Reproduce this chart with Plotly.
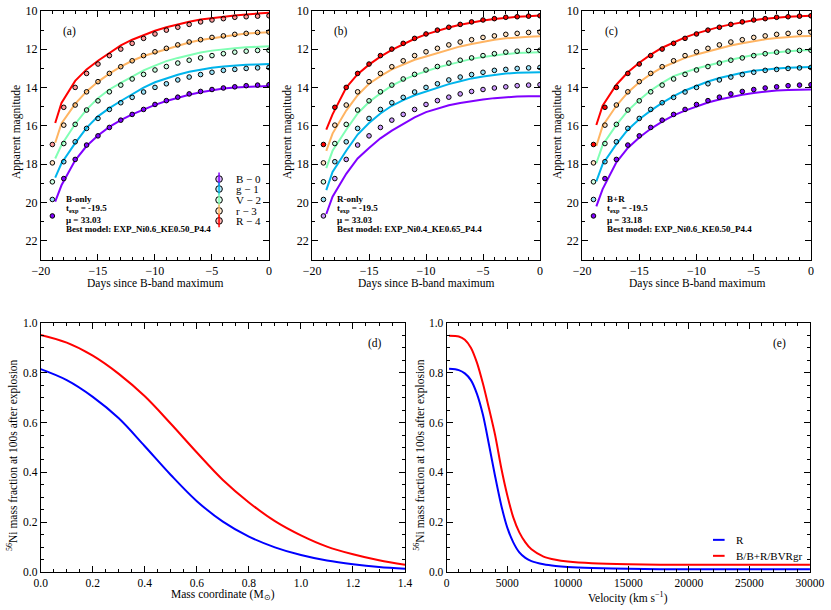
import plotly.graph_objects as go

# observed photometry (days since B max), same in all three top panels
days = [-19, -18, -17, -16, -15, -14, -13, -12, -11, -10,
        -9, -8, -7, -6, -5, -4, -3, -2, -1, 0]
obs_B = [20.70, 18.75, 17.75, 17.00, 16.52, 16.08, 15.70, 15.40, 15.14, 14.88,
         14.68, 14.50, 14.33, 14.20, 14.10, 14.02, 13.96, 13.90, 13.87, 13.85]
obs_g = [19.84, 17.87, 16.83, 16.13, 15.61, 15.14, 14.79, 14.51, 14.23, 13.99,
         13.80, 13.60, 13.45, 13.32, 13.20, 13.10, 13.05, 13.00, 12.97, 12.95]
obs_V = [18.92, 16.92, 15.92, 15.17, 14.69, 14.22, 13.87, 13.55, 13.31, 13.08,
         12.90, 12.72, 12.57, 12.45, 12.33, 12.23, 12.15, 12.10, 12.06, 12.05]
obs_r = [17.93, 15.96, 14.91, 14.22, 13.69, 13.26, 12.91, 12.60, 12.33, 12.13,
         11.95, 11.77, 11.62, 11.50, 11.38, 11.30, 11.22, 11.17, 11.12, 11.10]
obs_R = [16.97, 15.03, 13.99, 13.26, 12.77, 12.33, 11.99, 11.69, 11.43, 11.20,
         11.00, 10.85, 10.70, 10.57, 10.47, 10.40, 10.33, 10.30, 10.27, 10.25]

# model light curves
model_t = [-18.75, -18.2, -17, -16, -15, -14, -13, -12, -11, -10,
           -9, -8, -7, -6, -5, -4, -3, -2, -1, 0]
# (a) B-only
a_B = [19.95, 19.10, 17.80, 17.05, 16.50, 16.05, 15.70, 15.40, 15.15, 14.90,
       14.70, 14.52, 14.37, 14.24, 14.13, 14.05, 14.00, 13.96, 13.94, 13.92]
a_g = [18.70, 17.95, 16.90, 16.10, 15.50, 15.07, 14.70, 14.35, 14.00, 13.72,
       13.52, 13.33, 13.17, 13.05, 12.96, 12.90, 12.85, 12.81, 12.79, 12.77]
a_V = [17.70, 17.00, 15.90, 15.15, 14.55, 14.10, 13.75, 13.42, 13.10, 12.85,
       12.62, 12.45, 12.30, 12.17, 12.07, 12.00, 11.94, 11.90, 11.86, 11.84]
a_r = [16.88, 15.87, 14.85, 14.20, 13.70, 13.27, 12.90, 12.60, 12.35, 12.17,
       11.98, 11.82, 11.65, 11.52, 11.42, 11.33, 11.25, 11.18, 11.14, 11.11]
a_R = [15.85, 14.80, 13.65, 13.05, 12.60, 12.20, 11.80, 11.50, 11.25, 11.03,
       10.85, 10.70, 10.56, 10.45, 10.37, 10.30, 10.23, 10.18, 10.13, 10.09]
# (b) R-only
b_B = [20.60, 19.70, 18.50, 17.70, 17.15, 16.65, 16.25, 15.90, 15.55, 15.28,
       15.08, 14.92, 14.80, 14.70, 14.62, 14.55, 14.50, 14.47, 14.45, 14.45]
b_g = [19.35, 18.40, 17.30, 16.45, 15.85, 15.35, 14.95, 14.65, 14.40, 14.20,
       14.00, 13.82, 13.67, 13.52, 13.42, 13.33, 13.27, 13.23, 13.20, 13.20]
b_V = [18.20, 17.30, 16.20, 15.35, 14.75, 14.30, 13.90, 13.60, 13.35, 13.15,
       12.95, 12.80, 12.65, 12.50, 12.40, 12.32, 12.25, 12.20, 12.17, 12.15]
b_r = [17.30, 16.40, 15.20, 14.40, 13.80, 13.40, 13.05, 12.78, 12.55, 12.38,
       12.20, 12.00, 11.85, 11.72, 11.60, 11.50, 11.43, 11.38, 11.34, 11.32]
b_R = [16.20, 15.40, 14.00, 13.30, 12.80, 12.38, 12.03, 11.72, 11.45, 11.22,
       11.03, 10.86, 10.72, 10.60, 10.50, 10.42, 10.35, 10.30, 10.27, 10.24]
# (c) B+R
c_B = [20.20, 19.30, 17.90, 17.15, 16.60, 16.15, 15.78, 15.45, 15.20, 14.97,
       14.78, 14.62, 14.48, 14.37, 14.28, 14.20, 14.15, 14.12, 14.10, 14.10]
c_g = [18.90, 18.00, 16.95, 16.20, 15.65, 15.20, 14.80, 14.45, 14.15, 13.90,
       13.68, 13.50, 13.35, 13.22, 13.12, 13.05, 13.00, 12.96, 12.93, 12.92]
c_V = [17.95, 17.00, 15.95, 15.20, 14.65, 14.15, 13.75, 13.40, 13.20, 13.00,
       12.85, 12.68, 12.55, 12.42, 12.30, 12.22, 12.15, 12.10, 12.06, 12.04]
c_r = [17.05, 16.00, 14.95, 14.25, 13.72, 13.30, 12.95, 12.68, 12.45, 12.27,
       12.10, 11.95, 11.80, 11.68, 11.57, 11.48, 11.41, 11.36, 11.32, 11.30]
c_R = [15.95, 14.95, 13.85, 13.20, 12.70, 12.28, 11.92, 11.63, 11.38, 11.17,
       10.98, 10.83, 10.70, 10.58, 10.48, 10.40, 10.34, 10.30, 10.27, 10.25]

bands = ["B", "g", "V", "r", "R"]
legend_labels = ["B \u2212 0", "g \u2212 1", "V \u2212 2", "r \u2212 3", "R \u2212 4"]
band_colors = {"B": "#8000ff", "g": "#00b4eb", "V": "#80ffb4", "r": "#ffb462", "R": "#ff0000"}
observed = {"B": obs_B, "g": obs_g, "V": obs_V, "r": obs_r, "R": obs_R}

panels = [
    dict(key="a", models={"B": a_B, "g": a_g, "V": a_V, "r": a_r, "R": a_R}, fitted=["B"],
         info=["B-only", "t<sub>exp</sub> = -19.5", "\u03bc = 33.03", "Best model: EXP_Ni0.6_KE0.50_P4.4"]),
    dict(key="b", models={"B": b_B, "g": b_g, "V": b_V, "r": b_r, "R": b_R}, fitted=["R"],
         info=["R-only", "t<sub>exp</sub> = -19.5", "\u03bc = 33.03", "Best model: EXP_Ni0.4_KE0.65_P4.4"]),
    dict(key="c", models={"B": c_B, "g": c_g, "V": c_V, "r": c_r, "R": c_R}, fitted=["B", "R"],
         info=["B+R", "t<sub>exp</sub> = -19.5", "\u03bc = 33.18", "Best model: EXP_Ni0.6_KE0.50_P4.4"]),
]

# 56Ni profiles
mass = [0.0, 0.1, 0.2, 0.3, 0.4, 0.5, 0.6, 0.7, 0.8, 0.9, 1.0, 1.1, 1.2, 1.3, 1.4]
ni_mass_R = [0.814, 0.770, 0.703, 0.617, 0.505, 0.390, 0.285, 0.203, 0.143, 0.100,
             0.069, 0.047, 0.032, 0.021, 0.014]
ni_mass_B = [0.951, 0.920, 0.868, 0.795, 0.705, 0.595, 0.480, 0.370, 0.280, 0.205,
             0.148, 0.103, 0.072, 0.048, 0.030]
velocity = [200, 1000, 1500, 2000, 2500, 3000, 3500, 4000, 4500, 5000, 5500, 6000,
            6500, 7000, 8000, 9000, 10000, 12000, 15000, 20000, 25000, 30000]
ni_vel_R = [0.815, 0.810, 0.797, 0.770, 0.715, 0.630, 0.510, 0.385, 0.270, 0.180, 0.120,
            0.080, 0.058, 0.045, 0.032, 0.025, 0.021, 0.017, 0.014, 0.012, 0.012, 0.012]
ni_vel_B = [0.948, 0.945, 0.932, 0.900, 0.840, 0.755, 0.655, 0.550, 0.420, 0.310, 0.220,
            0.160, 0.120, 0.092, 0.063, 0.050, 0.043, 0.036, 0.032, 0.030, 0.030, 0.030]
vel_labels = ["R", "B/B+R/BVRgr"]


def rgba(hexcol, a):
    return f"rgba({int(hexcol[1:3], 16)}, {int(hexcol[3:5], 16)}, {int(hexcol[5:], 16)}, {a})"


FONT = "Liberation Serif"
fig = go.Figure()
annotations = []
shapes = []


def label(text, x, y, xref, yref, size=11.5, angle=0, xanchor="center", yanchor="middle"):
    annotations.append(dict(text=text, x=x, y=y, xref=xref, yref=yref, showarrow=False,
                            textangle=angle, font=dict(size=size),
                            xanchor=xanchor, yanchor=yanchor))


for i, p in enumerate(panels):
    xa = "x" if i == 0 else f"x{i + 1}"
    ya = "y" if i == 0 else f"y{i + 1}"
    for b in bands:
        fig.add_trace(go.Scatter(x=model_t, y=p["models"][b], mode="lines", xaxis=xa, yaxis=ya,
                                 line=dict(color=band_colors[b], width=2), showlegend=False))
    for b in bands:
        face = band_colors[b] if b in p["fitted"] else rgba(band_colors[b], 0.4)
        fig.add_trace(go.Scatter(x=days, y=observed[b], mode="markers", xaxis=xa, yaxis=ya,
                                 marker=dict(size=4.6, color=face, line=dict(color="black", width=1)),
                                 showlegend=False))
    xd = xa + " domain"
    yd = ya + " domain"
    label(f"({p['key']})", 0.127, 0.916, xd, yd)
    label("Days since B-band maximum", 0.5, -0.094, xd, yd)
    label("Apparent magnitude", -0.105, 0.514, xd, yd, angle=-90)
    for line, yy in zip(p["info"], [0.245, 0.205, 0.161, 0.124]):
        label(f"<b>{line}</b>", 0.10, yy, xd, yd, size=9, xanchor="left")

# legend of panel (a) drawn with shapes
for b, lab, yy in zip(bands, legend_labels, [0.325, 0.285, 0.241, 0.197, 0.157]):
    cx, rx, ry = 0.781, 0.0145, 0.0135
    shapes.append(dict(type="circle", xref="x domain", yref="y domain",
                       x0=cx - rx, x1=cx + rx, y0=yy - ry, y1=yy + ry,
                       fillcolor=rgba(band_colors[b], 0.3), line=dict(color="black", width=1)))
    shapes.append(dict(type="line", xref="x domain", yref="y domain",
                       x0=cx, x1=cx, y0=yy - 0.026, y1=yy + 0.026,
                       line=dict(color=band_colors[b], width=1.5)))
    label(lab, 0.846, yy, "x domain", "y domain", size=11, xanchor="left")

fig.add_trace(go.Scatter(x=mass, y=ni_mass_R, mode="lines", xaxis="x4", yaxis="y4",
                         line=dict(color="#0000ff", width=2, shape="spline"), showlegend=False))
fig.add_trace(go.Scatter(x=mass, y=ni_mass_B, mode="lines", xaxis="x4", yaxis="y4",
                         line=dict(color="#ff0000", width=2, shape="spline"), showlegend=False))
fig.add_trace(go.Scatter(x=velocity, y=ni_vel_R, mode="lines", xaxis="x5", yaxis="y5",
                         line=dict(color="#0000ff", width=2, shape="spline", smoothing=0.8),
                         showlegend=False))
fig.add_trace(go.Scatter(x=velocity, y=ni_vel_B, mode="lines", xaxis="x5", yaxis="y5",
                         line=dict(color="#ff0000", width=2, shape="spline", smoothing=0.8),
                         showlegend=False))

ni_title = "<sup>56</sup>Ni mass fraction at 100s after explosion"
label("(d)", 0.918, 0.915, "x4 domain", "y4 domain")
label("Mass coordinate (M<sub>\u2299</sub>)", 0.5, -0.09, "x4 domain", "y4 domain")
label(ni_title, -0.076, 0.47, "x4 domain", "y4 domain", angle=-90)
label("(e)", 0.917, 0.915, "x5 domain", "y5 domain")
label("Velocity (km s<sup>\u22121</sup>)", 0.5, -0.1, "x5 domain", "y5 domain")
label(ni_title, -0.074, 0.47, "x5 domain", "y5 domain", angle=-90)
# legend of panel (e)
for lab, col, yy in zip(vel_labels, ["#0000ff", "#ff0000"], [0.13, 0.066]):
    shapes.append(dict(type="line", xref="x5 domain", yref="y5 domain",
                       x0=0.733, x1=0.765, y0=yy, y1=yy, line=dict(color=col, width=2)))
    label(lab, 0.79, yy, "x5 domain", "y5 domain", size=11, xanchor="left")


def axis_style(dtick, minor, size=12, **kw):
    d = dict(showline=True, linecolor="black", linewidth=1, mirror="allticks",
             ticks="inside", ticklen=6, tickwidth=1, tickcolor="black",
             dtick=dtick, minor=dict(ticks="inside", ticklen=3, tickcolor="black", dtick=minor),
             showgrid=False, zeroline=False, automargin=False,
             tickfont=dict(size=size, color="black"))
    d.update(kw)
    return d


top_x = [[0.0493, 0.3237], [0.3755, 0.6498], [0.7004, 0.9759]]
top_y = [0.5738, 0.9820]
layout = dict(width=831, height=610, margin=dict(l=0, r=0, t=0, b=0),
              paper_bgcolor="white", plot_bgcolor="white",
              font=dict(family=FONT, color="black"),
              annotations=annotations, shapes=shapes, showlegend=False)
for i, dom in enumerate(top_x):
    n = "" if i == 0 else str(i + 1)
    layout["xaxis" + n] = axis_style(5, 1, domain=dom, range=[-20, 0], anchor="y" + n)
    layout["yaxis" + n] = axis_style(2, 1, domain=top_y, range=[23, 10], anchor="x" + n)
layout["xaxis4"] = axis_style(0.2, 0.05, 11.5, domain=[0.0490, 0.4874], range=[0, 1.4],
                              anchor="y4", tickformat=".1f")
layout["yaxis4"] = axis_style(0.2, 0.05, 11.5, domain=[0.0618, 0.4710], range=[0, 1.0],
                              anchor="x4", tickformat=".1f")
layout["xaxis5"] = axis_style(5000, 1000, 11.5, domain=[0.5375, 0.9747], range=[0, 30000],
                              anchor="y5", tickformat="d")
layout["yaxis5"] = axis_style(0.2, 0.05, 11.5, domain=[0.0618, 0.4710], range=[0, 1.0],
                              anchor="x5", tickformat=".1f")
fig.update_layout(**layout)
fig.write_html("out.html", config={"displayModeBar": False},
               post_script="document.body.style.margin='0';document.body.style.overflow='hidden';")
